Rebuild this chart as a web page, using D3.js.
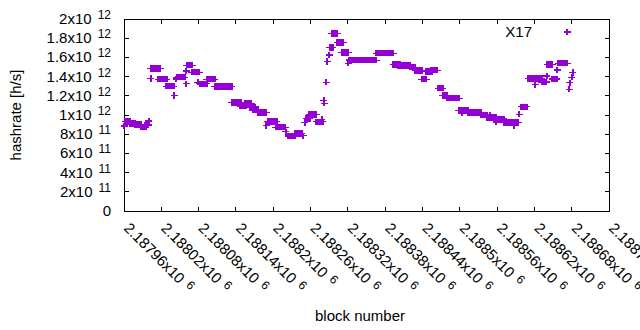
<!DOCTYPE html>
<html>
<head>
<meta charset="utf-8">
<script src="https://cdn.jsdelivr.net/npm/d3@7"></script>
<style>
  body { margin: 0; background: #fff; }
  svg { display: block; font-family: "Liberation Sans", Arial, sans-serif; }
</style>
</head>
<body>
<svg width="640" height="330"></svg>
<script>
// runs of blocks sharing one hashrate value (units of 1e12 h/s)
const runStart = [2187960, 2187962, 2187970, 2187978, 2187987, 2187994, 2188000, 2188003, 2188003, 2188015,
  2188028, 2188041, 2188044, 2188045, 2188060, 2188060, 2188061, 2188069, 2188079, 2188082,
  2188093, 2188106, 2188133, 2188147, 2188155, 2188163, 2188167, 2188175, 2188189, 2188191,
  2188204, 2188220, 2188224, 2188235, 2188248, 2188251, 2188253, 2188258, 2188269, 2188278,
  2188281, 2188282, 2188285, 2188287, 2188290, 2188291, 2188294, 2188303, 2188310, 2188321,
  2188322, 2188333, 2188366, 2188393, 2188401, 2188420, 2188428, 2188439, 2188446, 2188454,
  2188465, 2188473, 2188479, 2188498, 2188503, 2188514, 2188534, 2188548, 2188543, 2188559,
  2188559, 2188571, 2188587, 2188596, 2188599, 2188610, 2188621, 2188624, 2188632, 2188640,
  2188641, 2188649, 2188657, 2188658, 2188676, 2188677, 2188680, 2188682];
const runEnd = [2187960, 2187970, 2187978, 2187987, 2187995, 2187999, 2188000, 2188003, 2188018, 2188029,
  2188040, 2188041, 2188044, 2188058, 2188060, 2188060, 2188070, 2188081, 2188079, 2188093,
  2188106, 2188133, 2188148, 2188156, 2188165, 2188171, 2188175, 2188189, 2188189, 2188206,
  2188219, 2188220, 2188235, 2188246, 2188248, 2188251, 2188259, 2188269, 2188280, 2188278,
  2188281, 2188282, 2188285, 2188287, 2188290, 2188296, 2188303, 2188313, 2188321, 2188321,
  2188333, 2188366, 2188393, 2188404, 2188420, 2188428, 2188439, 2188446, 2188455, 2188464,
  2188473, 2188479, 2188499, 2188514, 2188503, 2188534, 2188543, 2188548, 2188559, 2188559,
  2188571, 2188594, 2188587, 2188596, 2188608, 2188621, 2188621, 2188632, 2188639, 2188640,
  2188649, 2188656, 2188657, 2188673, 2188676, 2188677, 2188680, 2188682];
const hashrate = [0.885, 0.932, 0.911, 0.901, 0.875, 0.896, 0.938, 1.382, 1.486, 1.373,
  1.299, 1.205, 1.375, 1.393, 1.458, 1.326, 1.518, 1.445, 1.341, 1.326,
  1.372, 1.297, 1.132, 1.094, 1.118, 1.078, 1.057, 1.028, 0.889, 0.934,
  0.872, 0.826, 0.781, 0.807, 0.784, 0.920, 0.964, 1.007, 0.930, 0.955,
  1.149, 1.122, 1.341, 1.559, 1.625, 1.705, 1.851, 1.757, 1.653, 1.539,
  1.573, 1.570, 1.643, 1.528, 1.514, 1.498, 1.463, 1.373, 1.455, 1.466,
  1.279, 1.202, 1.174, 1.047, 1.028, 1.026, 1.000, 1.000, 0.976, 0.927,
  0.959, 0.922, 0.888, 1.008, 1.085, 1.379, 1.318, 1.380, 1.344, 1.406,
  1.526, 1.375, 1.469, 1.540, 1.268, 1.336, 1.393, 1.441];

const xTicks = d3.range(2187960, 2188741, 60);
const yTicks = [0, 0.2, 0.4, 0.6, 0.8, 1, 1.2, 1.4, 1.6, 1.8, 2];
const seriesName = "X17";

const svg = d3.select("svg");
const margin = {left: 124, right: 31, top: 19, bottom: 119};
const W = 640, H = 330;
const color = "#9400d3";

const x = d3.scaleLinear().domain([2187960, 2188740]).range([margin.left, W - margin.right]);
const y = d3.scaleLinear().domain([0, 2]).range([H - margin.bottom, margin.top]);

const x0 = x.range()[0], x1 = x.range()[1], y0 = y.range()[0], y1 = y.range()[1];
const tickLen = 4.5;

// ticks (inner, mirrored on opposite side)
const ticks = svg.append("g").attr("stroke", "#000").attr("stroke-width", 1).attr("shape-rendering", "crispEdges");
yTicks.forEach(v => {
  if (v === 0 || v === 2) return;
  ticks.append("line").attr("x1", x0).attr("x2", x0 + tickLen).attr("y1", y(v)).attr("y2", y(v));
  ticks.append("line").attr("x1", x1).attr("x2", x1 - tickLen).attr("y1", y(v)).attr("y2", y(v));
});
xTicks.forEach(v => {
  if (v === xTicks[0] || v === xTicks[xTicks.length - 1]) return;
  ticks.append("line").attr("x1", x(v)).attr("x2", x(v)).attr("y1", y0).attr("y2", y0 - tickLen);
  ticks.append("line").attr("x1", x(v)).attr("x2", x(v)).attr("y1", y1).attr("y2", y1 + tickLen);
});

// frame
svg.append("rect")
  .attr("x", x0).attr("y", y1).attr("width", x1 - x0).attr("height", y0 - y1)
  .attr("fill", "none").attr("stroke", "#000").attr("stroke-width", 1)
  .attr("shape-rendering", "crispEdges");

// y tick labels
const fmt = d3.format(".6~g");
yTicks.forEach(v => {
  const t = svg.append("text")
    .attr("x", 111).attr("y", y(v) + 5)
    .attr("text-anchor", "end").attr("font-size", 15).attr("fill", "#000");
  if (v === 0) { t.text("0"); return; }
  const exp = v < 1 ? 11 : 12;
  const m = v < 1 ? v * 10 : v;
  t.append("tspan").text(fmt(m) + "x10");
  t.append("tspan").attr("dx", 6).attr("dy", -5).attr("font-size", 12).text(exp);
});

// x tick labels, rotated
xTicks.forEach(v => {
  const t = svg.append("text")
    .attr("transform", `translate(${x(v) - 1},${y0 + 18}) rotate(45)`)
    .attr("font-size", 15).attr("fill", "#000");
  t.append("tspan").text(fmt(v / 1e6) + "x10");
  t.append("tspan").attr("dx", 6).attr("dy", -4).attr("font-size", 12).text("6");
});

// axis titles
svg.append("text")
  .attr("transform", `translate(21,${(y0 + y1) / 2}) rotate(-90)`)
  .attr("text-anchor", "middle").attr("font-size", 15).text("hashrate [h/s]");
svg.append("text")
  .attr("x", 360).attr("y", 321)
  .attr("text-anchor", "middle").attr("font-size", 15).text("block number");

// data marks: horizontal bar plus filled body spanning the run
const marks = svg.append("g").attr("shape-rendering", "crispEdges");
function drawMark(g, xa, xb, yy) {
  g.append("line")
    .attr("x1", xa - 3.5).attr("x2", xb + 3.5).attr("y1", yy).attr("y2", yy)
    .attr("stroke", color).attr("stroke-width", 1.2);
  g.append("rect")
    .attr("x", xa - 1).attr("width", xb - xa + 2)
    .attr("y", yy - 3.2).attr("height", 6.4)
    .attr("fill", color);
}
hashrate.forEach((v, i) => {
  drawMark(marks, x(runStart[i]), x(runEnd[i]), y(v));
});

// legend
svg.append("text")
  .attr("x", 532).attr("y", 37).attr("text-anchor", "end")
  .attr("font-size", 15).text(seriesName);
drawMark(marks, 567, 567, 32);
</script>
</body>
</html>
